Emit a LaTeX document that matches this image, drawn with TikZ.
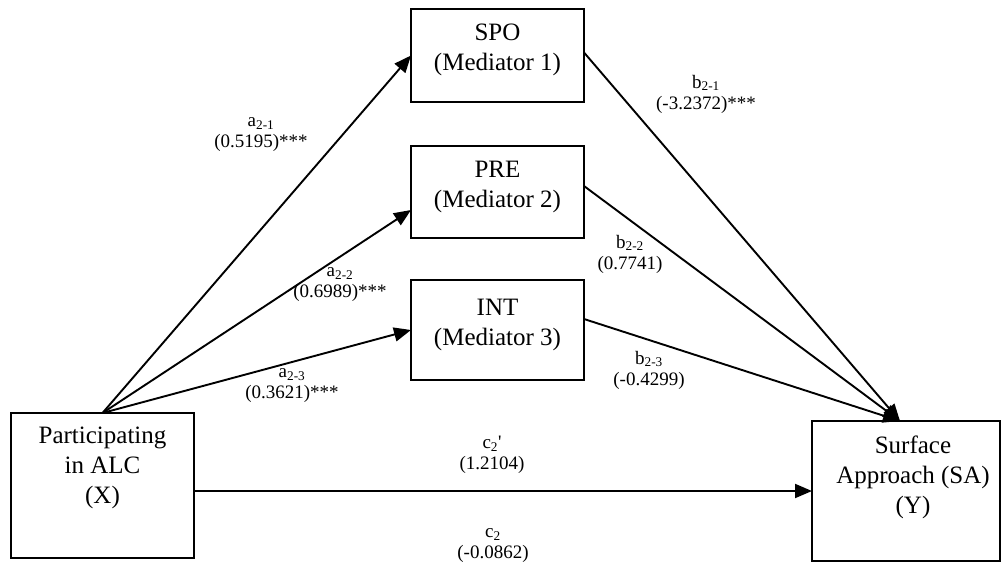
\documentclass[tikz,border=0pt]{standalone}
\usepackage{fontspec}
\setmainfont{Liberation Serif}
\usetikzlibrary{arrows.meta,calc}
\tikzset{
  box/.style={draw, line width=1.5pt, inner sep=0pt, outer sep=0pt, minimum width=#1},
  boxtext/.style={align=center, inner sep=0pt, font=\fontsize{25}{30}\selectfont},
  coef/.style={align=center, inner sep=0pt, font=\fontsize{19}{21}\selectfont},
  path/.style={line width=1.9pt, -{Triangle[length=17pt,width=14pt]}},
}
\begin{document}
\begin{tikzpicture}[x=1pt,y=-1pt]
\useasboundingbox (0,0) rectangle (1002,563);
% boxes
\node[box=183pt, minimum height=145pt] (X) at (102.5,485.5) {};
\node[box=173pt, minimum height=93pt] (SPO) at (497.5,55.5) {};
\node[box=173pt, minimum height=92pt] (PRE) at (497.5,192) {};
\node[box=173pt, minimum height=100pt] (INT) at (497.5,330) {};
\node[box=188pt, minimum height=140pt] (Y) at (906,491) {};
% box texts
\node[boxtext] (Xt) at (102.5,468) {Participating\\in ALC\\(X)};
\node[boxtext] (SPOt) at (497.5,50) {SPO\\(Mediator 1)};
\node[boxtext] (PREt) at (497.5,187) {PRE\\(Mediator 2)};
\node[boxtext] (INTt) at (497.5,325) {INT\\(Mediator 3)};
\node[boxtext] (Yt) at (913,477) {Surface\\Approach (SA)\\(Y)};
% target point on Y
\coordinate (yt) at ($(Y.north)+(-6,0)$);
% a paths
\draw[path] (X.north) -- (SPO.west);
\draw[path] (X.north) -- ($(PRE.west)+(0,18)$);
\draw[path] (X.north) -- (INT.west);
% b paths
\draw[path] ($(SPO.east)+(0,-3)$) -- (yt);
\draw[path] ($(PRE.east)+(0,-6)$) -- (yt);
\draw[path] ($(INT.east)+(0,-11)$) -- (yt);
% c path
\draw[path] (X.east |- Y.west) -- (Y.west);
% coefficients
\node[coef] (la1) at (261,135) {a\textsubscript{2-1}\\(0.5195)***};
\node[coef] (la2) at (340,285) {a\textsubscript{2-2}\\(0.6989)***};
\node[coef] (la3) at (292,386) {a\textsubscript{2-3}\\(0.3621)***};
\node[coef] (lb1) at (706,94) {b\textsubscript{2-1}\\(-3.2372)***};
\node[coef] (lb2) at (630,254) {b\textsubscript{2-2}\\(0.7741)};
\node[coef] (lb3) at (649,370) {b\textsubscript{2-3}\\(-0.4299)};
\node[coef] (lc1) at (492,455) {c\textsubscript{2}\textquotesingle\\(1.2104)};
\node[coef] (lc2) at (493,546) {c\textsubscript{2}\\(-0.0862)};
\end{tikzpicture}
\end{document}
